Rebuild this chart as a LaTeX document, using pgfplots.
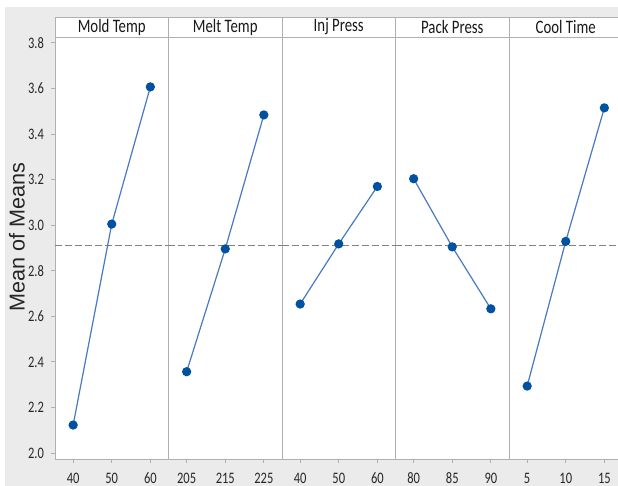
\documentclass[border=0pt]{standalone}
\usepackage{fontspec}
\setmainfont{Liberation Sans}
\newfontfamily\condfont[FakeStretch=0.78]{Carlito}
\usepackage{pgfplots}
\pgfplotsset{compat=1.18}

\definecolor{bggray}{RGB}{235,235,235}
\definecolor{framegray}{RGB}{176,176,176}
\definecolor{lineblue}{RGB}{72,122,192}
\definecolor{markblue}{RGB}{0,82,160}
\definecolor{refgray}{RGB}{130,130,130}

% one panel of the main effects plot: #1 = left edge, #2 = factor name
\pgfplotsset{
  panel/.style 2 args={
    at={(#1,13.5pt)}, anchor=south west,
    scale only axis, width=56.75pt, height=211pt,
    xmin=0.53, xmax=3.47, ymin=1.974, ymax=3.826,
    xtick={1,2,3}, xtick pos=bottom, ytick=\empty,
    tick align=outside, major tick length=2pt,
    axis line style={framegray, line width=0.45pt},
    tick style={framegray, line width=0.45pt},
    axis background/.style={fill=white},
    /pgf/number format/assume math mode=true,
    ticklabel style={font=\condfont\fontsize{8}{9}\selectfont, text=black!85},
    xticklabel style={yshift=-1.5pt},
    clip=false,
    extra description/.code={
      \draw[framegray, line width=0.45pt, fill=white]
        (0,1) rectangle ([yshift=10pt]1,1);
      \node[font=\condfont\fontsize{9.5}{11}\selectfont, text=black!90]
        at ([yshift=5pt]0.5,1) {#2};
    },
  },
  effect/.style={lineblue, line width=0.6pt, mark=*, mark size=2pt,
    mark options={fill=markblue, draw=markblue}},
  grandmean/.style={refgray, line width=0.6pt, dash pattern=on 3.5pt off 1.5pt,
    mark=none, forget plot},
}

\begin{document}
\begin{tikzpicture}
\useasboundingbox (0,0) rectangle (309pt,243pt);
\fill[bggray] (2.5pt,0) rectangle (312pt,239.5pt);

% Mold Temp
\begin{axis}[panel={27.5pt}{Mold Temp},
  xticklabels={40,50,60},
  ytick={2.0,2.2,2.4,2.6,2.8,3.0,3.2,3.4,3.6,3.8}, ytick pos=left,
  yticklabel style={/pgf/number format/.cd, fixed, fixed zerofill, precision=1},
  ylabel={Mean of Means},
  ylabel style={at={(axis description cs:-0.335,0.526)}, anchor=center,
    font=\fontsize{10.8}{12}\selectfont, text=black!85}]
\addplot[grandmean] coordinates {(0.53,2.911) (3.47,2.911)};
\addplot[effect] coordinates {(1,2.123) (2,3.005) (3,3.607)};
\end{axis}

% Melt Temp
\begin{axis}[panel={84.25pt}{Melt Temp}, xticklabels={205,215,225}]
\addplot[grandmean] coordinates {(0.53,2.911) (3.47,2.911)};
\addplot[effect] coordinates {(1,2.357) (2,2.896) (3,3.484)};
\end{axis}

% Inj Press
\begin{axis}[panel={141pt}{Inj Press}, xticklabels={40,50,60}]
\addplot[grandmean] coordinates {(0.53,2.911) (3.47,2.911)};
\addplot[effect] coordinates {(1,2.654) (2,2.918) (3,3.170)};
\end{axis}

% Pack Press
\begin{axis}[panel={197.75pt}{Pack Press}, xticklabels={80,85,90}]
\addplot[grandmean] coordinates {(0.53,2.911) (3.47,2.911)};
\addplot[effect] coordinates {(1,3.204) (2,2.905) (3,2.633)};
\end{axis}

% Cool Time
\begin{axis}[panel={254.5pt}{Cool Time}, xticklabels={5,10,15}]
\addplot[grandmean] coordinates {(0.53,2.911) (3.47,2.911)};
\addplot[effect] coordinates {(1,2.294) (2,2.929) (3,3.515)};
\end{axis}
\end{tikzpicture}
\end{document}
